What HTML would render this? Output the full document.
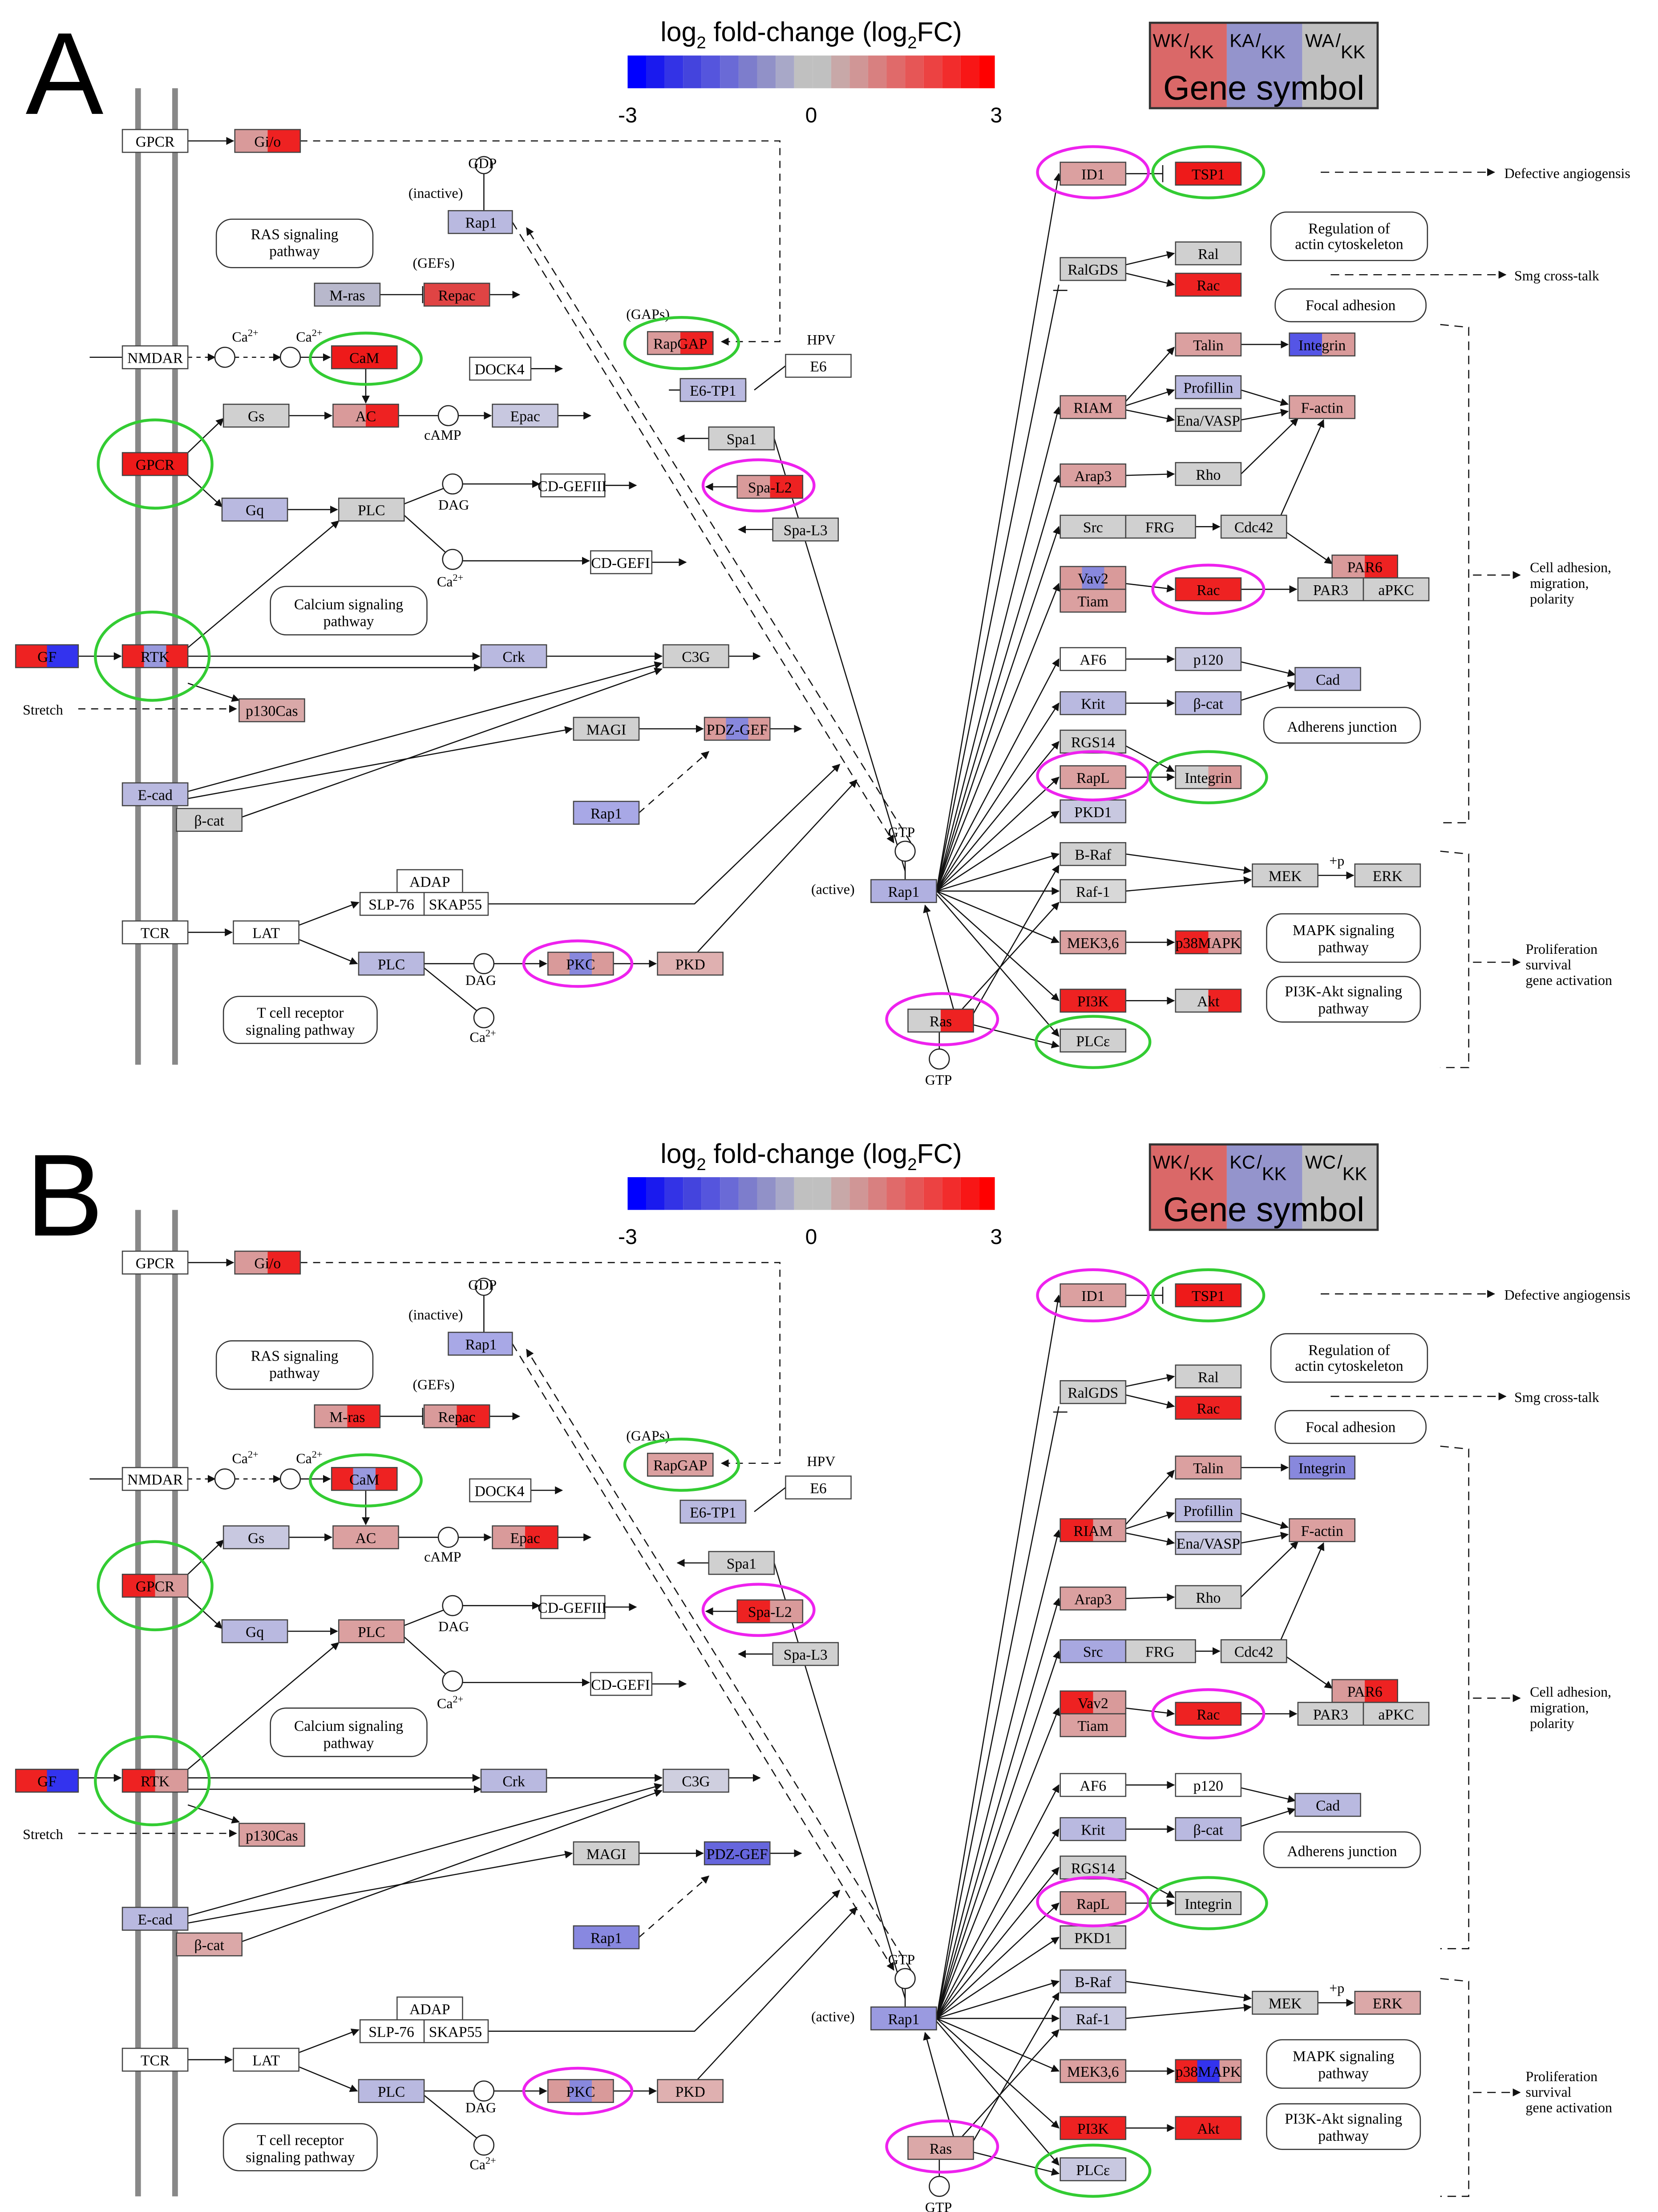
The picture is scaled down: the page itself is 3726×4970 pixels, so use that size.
<!DOCTYPE html>
<html><head><meta charset="utf-8"><style>
html,body{margin:0;padding:0;background:#fff}
svg{display:block}
.t{font-family:"Liberation Serif",serif;font-size:10.5px;text-anchor:middle;fill:#000}
.s{font-family:"Liberation Serif",serif;font-size:10px;fill:#000}
.h{font-family:"Liberation Sans",sans-serif}
.bx rect{stroke:#444;stroke-width:.8}
.ln line,.ln path,.ln polyline{stroke:#111;stroke-width:.8;fill:none}
.rb{fill:#fff;stroke:#333;stroke-width:.8}
.ge{fill:none;stroke:#33cc33;stroke-width:2}
.me{fill:none;stroke:#ee22ee;stroke-width:2}
.ci{fill:#fff;stroke:#222;stroke-width:.8}
</style></head><body>
<svg width="3726" height="4970" viewBox="0 0 1165 1554" preserveAspectRatio="none" xmlns="http://www.w3.org/2000/svg">
<defs>
<marker id="ar" viewBox="0 0 10 10" refX="9" refY="5" markerWidth="7" markerHeight="7" orient="auto"><path d="M0,0L10,5L0,10z" fill="#111"/></marker>
<linearGradient id="pr"><stop offset=".5" stop-color="#d99a9a"/><stop offset=".5" stop-color="#ee2222"/></linearGradient>
<linearGradient id="rp"><stop offset=".5" stop-color="#ee2222"/><stop offset=".5" stop-color="#d99a9a"/></linearGradient>
<linearGradient id="rb"><stop offset=".5" stop-color="#ee2222"/><stop offset=".5" stop-color="#3333ee"/></linearGradient>
<linearGradient id="bp"><stop offset=".5" stop-color="#5555e6"/><stop offset=".5" stop-color="#d99a9a"/></linearGradient>
<linearGradient id="lp"><stop offset=".5" stop-color="#b9b9e0"/><stop offset=".5" stop-color="#d99a9a"/></linearGradient>
<linearGradient id="gp"><stop offset=".5" stop-color="#d0d0d0"/><stop offset=".5" stop-color="#d99a9a"/></linearGradient>
<linearGradient id="rlr"><stop offset=".33" stop-color="#ee2222"/><stop offset=".33" stop-color="#9999dd"/><stop offset=".67" stop-color="#9999dd"/><stop offset=".67" stop-color="#ee2222"/></linearGradient>
<linearGradient id="plp"><stop offset=".33" stop-color="#d99a9a"/><stop offset=".33" stop-color="#8888dd"/><stop offset=".67" stop-color="#8888dd"/><stop offset=".67" stop-color="#d99a9a"/></linearGradient>
<linearGradient id="rbp"><stop offset=".33" stop-color="#ee2222"/><stop offset=".33" stop-color="#3333ee"/><stop offset=".67" stop-color="#3333ee"/><stop offset=".67" stop-color="#d99a9a"/></linearGradient>
<linearGradient id="gr"><stop offset=".5" stop-color="#d0d0d0"/><stop offset=".5" stop-color="#ee2222"/></linearGradient>
</defs>

<!-- ================= PANEL A ================= -->
<g id="pa">
<text x="18" y="80" class="h" font-size="82">A</text>
<text x="570" y="29" class="h" font-size="19" text-anchor="middle">log<tspan font-size="12" dy="5">2</tspan><tspan dy="-5"> fold-change (log</tspan><tspan font-size="12" dy="5">2</tspan><tspan dy="-5">FC)</tspan></text>
<g>
<rect x="441" y="39" width="13" height="23" fill="#0000ff"/><rect x="454" y="39" width="13" height="23" fill="#1a1aee"/><rect x="467" y="39" width="13" height="23" fill="#3333e6"/><rect x="480" y="39" width="13" height="23" fill="#4444dd"/><rect x="493" y="39" width="13" height="23" fill="#5555dd"/><rect x="506" y="39" width="13" height="23" fill="#6a6ad6"/><rect x="519" y="39" width="13" height="23" fill="#7d7dcc"/><rect x="532" y="39" width="13" height="23" fill="#9191c8"/><rect x="545" y="39" width="13" height="23" fill="#a8a8c8"/><rect x="558" y="39" width="13" height="23" fill="#c0c0c0"/><rect x="571" y="39" width="13" height="23" fill="#c0c0c0"/><rect x="584" y="39" width="13" height="23" fill="#c8a8a8"/><rect x="597" y="39" width="13" height="23" fill="#d09696"/><rect x="610" y="39" width="13" height="23" fill="#d88080"/><rect x="623" y="39" width="13" height="23" fill="#e06a6a"/><rect x="636" y="39" width="13" height="23" fill="#e65656"/><rect x="649" y="39" width="13" height="23" fill="#ec4242"/><rect x="662" y="39" width="13" height="23" fill="#f22c2c"/><rect x="675" y="39" width="13" height="23" fill="#f81616"/><rect x="688" y="39" width="11" height="23" fill="#ff0000"/>
</g>
<text x="441" y="86" class="h" font-size="15" text-anchor="middle">-3</text>
<text x="570" y="86" class="h" font-size="15" text-anchor="middle">0</text>
<text x="700" y="86" class="h" font-size="15" text-anchor="middle">3</text>
<rect x="808" y="16" width="54" height="60" fill="#da6868"/><rect x="862" y="16" width="53" height="60" fill="#9494cc"/><rect x="915" y="16" width="53" height="60" fill="#c0c0c0"/>
<rect x="808" y="16" width="160" height="60" fill="none" stroke="#333" stroke-width="1.5"/>
<text x="810" y="33" class="h" font-size="13">WK<tspan dx="1" dy="0">/</tspan><tspan dy="8">KK</tspan></text>
<text x="864" y="33" class="h" font-size="13">KA<tspan dx="1">/</tspan><tspan dy="8">KK</tspan></text>
<text x="917" y="33" class="h" font-size="13">WA<tspan dx="1">/</tspan><tspan dy="8">KK</tspan></text>
<text x="888" y="70" class="h" font-size="24" text-anchor="middle">Gene symbol</text>

<line x1="97" y1="62" x2="97" y2="748" stroke="#888" stroke-width="4"/>
<line x1="123" y1="62" x2="123" y2="748" stroke="#888" stroke-width="4"/>

<!-- rounded boxes -->
<rect class="rb" x="152" y="154" width="110" height="34" rx="11"/><text class="t" x="207" y="168">RAS signaling</text><text class="t" x="207" y="180">pathway</text>
<rect class="rb" x="190" y="412" width="110" height="34" rx="11"/><text class="t" x="245" y="428">Calcium signaling</text><text class="t" x="245" y="440">pathway</text>
<rect class="rb" x="157" y="700" width="108" height="33" rx="11"/><text class="t" x="211" y="715">T cell receptor</text><text class="t" x="211" y="727">signaling pathway</text>
<rect class="rb" x="893" y="149" width="110" height="34" rx="11"/><text class="t" x="948" y="164">Regulation of</text><text class="t" x="948" y="175">actin cytoskeleton</text>
<rect class="rb" x="896" y="203" width="106" height="23" rx="11"/><text class="t" x="949" y="218">Focal adhesion</text>
<rect class="rb" x="888" y="497" width="110" height="25" rx="11"/><text class="t" x="943" y="514">Adherens junction</text>
<rect class="rb" x="890" y="642" width="108" height="34" rx="11"/><text class="t" x="944" y="657">MAPK signaling</text><text class="t" x="944" y="669">pathway</text>
<rect class="rb" x="890" y="686" width="108" height="32" rx="11"/><text class="t" x="944" y="700">PI3K-Akt signaling</text><text class="t" x="944" y="712">pathway</text>

<!-- edges -->
<g class="ln">
<line x1="132" y1="99" x2="164" y2="99" marker-end="url(#ar)"/>
<polyline points="211,99 548,99 548,240 507,240" stroke-dasharray="5,4" marker-end="url(#ar)"/>
<line x1="267" y1="207" x2="297" y2="207"/><line x1="297" y1="201" x2="297" y2="213"/>
<line x1="344" y1="207" x2="365" y2="207" marker-end="url(#ar)"/>
<line x1="63" y1="251" x2="86" y2="251"/>
<line x1="132" y1="251" x2="151" y2="251" stroke-dasharray="3,3" marker-end="url(#ar)"/>
<line x1="165" y1="251" x2="197" y2="251" stroke-dasharray="3,3" marker-end="url(#ar)"/>
<line x1="211" y1="251" x2="232" y2="251" marker-end="url(#ar)"/>
<line x1="257" y1="259" x2="257" y2="283" marker-end="url(#ar)"/>
<line x1="373" y1="259" x2="395" y2="259" marker-end="url(#ar)"/>
<line x1="132" y1="318" x2="157" y2="294" marker-end="url(#ar)"/>
<line x1="132" y1="334" x2="156" y2="356" marker-end="url(#ar)"/>
<line x1="203" y1="292" x2="233" y2="292" marker-end="url(#ar)"/>
<line x1="280" y1="292" x2="308" y2="292"/>
<line x1="322" y1="292" x2="345" y2="292" marker-end="url(#ar)"/>
<line x1="392" y1="292" x2="415" y2="292" marker-end="url(#ar)"/>
<line x1="202" y1="358" x2="237" y2="358" marker-end="url(#ar)"/>
<line x1="284" y1="354" x2="312" y2="343"/>
<line x1="325" y1="340" x2="379" y2="340" marker-end="url(#ar)"/>
<line x1="425" y1="341" x2="447" y2="341" marker-end="url(#ar)"/>
<line x1="284" y1="362" x2="313" y2="388"/>
<line x1="325" y1="394" x2="414" y2="394" marker-end="url(#ar)"/>
<line x1="458" y1="395" x2="482" y2="395" marker-end="url(#ar)"/>
<line x1="55" y1="461" x2="85" y2="461" marker-end="url(#ar)"/>
<line x1="132" y1="455" x2="238" y2="366" marker-end="url(#ar)"/>
<line x1="132" y1="461" x2="337" y2="461" marker-end="url(#ar)"/>
<line x1="384" y1="461" x2="465" y2="461" marker-end="url(#ar)"/>
<line x1="512" y1="461" x2="534" y2="461" marker-end="url(#ar)"/>
<line x1="132" y1="469" x2="338" y2="469" marker-end="url(#ar)"/>
<line x1="132" y1="480" x2="168" y2="492" marker-end="url(#ar)"/>
<line x1="55" y1="498" x2="166" y2="498" stroke-dasharray="5,4" marker-end="url(#ar)"/>
<line x1="132" y1="556" x2="465" y2="466" marker-end="url(#ar)"/>
<line x1="132" y1="561" x2="402" y2="512" marker-end="url(#ar)"/>
<line x1="170" y1="574" x2="465" y2="470" marker-end="url(#ar)"/>
<line x1="449" y1="512" x2="494" y2="512" marker-end="url(#ar)"/>
<line x1="541" y1="512" x2="563" y2="512" marker-end="url(#ar)"/>
<line x1="449" y1="571" x2="498" y2="528" stroke-dasharray="5,4" marker-end="url(#ar)"/>
<line x1="132" y1="655" x2="163" y2="655" marker-end="url(#ar)"/>
<line x1="210" y1="650" x2="252" y2="634" marker-end="url(#ar)"/>
<line x1="210" y1="660" x2="251" y2="677" marker-end="url(#ar)"/>
<path d="M343,635 L488,635 L590,537" marker-end="url(#ar)"/>
<line x1="298" y1="677" x2="333" y2="677"/>
<line x1="347" y1="677" x2="384" y2="677" marker-end="url(#ar)"/>
<line x1="431" y1="677" x2="461" y2="677" marker-end="url(#ar)"/>
<line x1="298" y1="680" x2="335" y2="710"/>
<line x1="490" y1="669" x2="602" y2="548" marker-end="url(#ar)"/>
<line x1="360" y1="156" x2="628" y2="592" stroke-dasharray="6,4" marker-end="url(#ar)"/>
<line x1="640" y1="592" x2="370" y2="160" stroke-dasharray="6,4" marker-end="url(#ar)"/>
<line x1="544" y1="308" x2="636" y2="612"/>
<line x1="544" y1="302" x2="544" y2="314"/>
<line x1="498" y1="308" x2="476" y2="308" marker-end="url(#ar)"/>
<line x1="518" y1="342" x2="496" y2="342" marker-end="url(#ar)"/>
<line x1="543" y1="372" x2="519" y2="372" marker-end="url(#ar)"/>
<line x1="552" y1="257" x2="530" y2="274"/><line x1="524" y1="268" x2="524" y2="281"/>
<line x1="478" y1="274" x2="470" y2="274"/>
<!-- fan from Rap1 active -->
<line x1="658" y1="626" x2="744" y2="122" marker-end="url(#ar)"/>
<line x1="658" y1="626" x2="744" y2="200"/><line x1="740" y1="204" x2="750" y2="204"/>
<line x1="658" y1="626" x2="744" y2="286" marker-end="url(#ar)"/>
<line x1="658" y1="626" x2="744" y2="334" marker-end="url(#ar)"/>
<line x1="658" y1="626" x2="744" y2="370" marker-end="url(#ar)"/>
<line x1="658" y1="626" x2="744" y2="410" marker-end="url(#ar)"/>
<line x1="658" y1="626" x2="744" y2="463" marker-end="url(#ar)"/>
<line x1="658" y1="626" x2="744" y2="494" marker-end="url(#ar)"/>
<line x1="658" y1="626" x2="744" y2="521" marker-end="url(#ar)"/>
<line x1="658" y1="626" x2="744" y2="546" marker-end="url(#ar)"/>
<line x1="658" y1="626" x2="744" y2="570" marker-end="url(#ar)"/>
<line x1="658" y1="626" x2="744" y2="600" marker-end="url(#ar)"/>
<line x1="658" y1="626" x2="744" y2="626" marker-end="url(#ar)"/>
<line x1="658" y1="626" x2="744" y2="662" marker-end="url(#ar)"/>
<line x1="658" y1="626" x2="744" y2="703" marker-end="url(#ar)"/>
<line x1="658" y1="628" x2="744" y2="728" marker-end="url(#ar)"/>
<line x1="684" y1="712" x2="744" y2="608" marker-end="url(#ar)"/>
<line x1="676" y1="709" x2="744" y2="634" marker-end="url(#ar)"/>
<line x1="670" y1="709" x2="650" y2="636" marker-end="url(#ar)"/>
<line x1="684" y1="720" x2="744" y2="735" marker-end="url(#ar)"/>
<!-- right side -->
<line x1="791" y1="122" x2="817" y2="122"/><line x1="817" y1="116" x2="817" y2="128"/>
<line x1="928" y1="121" x2="1050" y2="121" stroke-dasharray="6,4" marker-end="url(#ar)"/>
<line x1="935" y1="193" x2="1058" y2="193" stroke-dasharray="6,4" marker-end="url(#ar)"/>
<line x1="791" y1="186" x2="825" y2="178" marker-end="url(#ar)"/>
<line x1="791" y1="192" x2="825" y2="200" marker-end="url(#ar)"/>
<line x1="872" y1="242" x2="905" y2="242" marker-end="url(#ar)"/>
<line x1="791" y1="282" x2="825" y2="244" marker-end="url(#ar)"/>
<line x1="791" y1="285" x2="825" y2="274" marker-end="url(#ar)"/>
<line x1="791" y1="288" x2="825" y2="295" marker-end="url(#ar)"/>
<line x1="872" y1="274" x2="905" y2="284" marker-end="url(#ar)"/>
<line x1="872" y1="295" x2="905" y2="289" marker-end="url(#ar)"/>
<line x1="791" y1="334" x2="825" y2="333" marker-end="url(#ar)"/>
<line x1="872" y1="333" x2="912" y2="294" marker-end="url(#ar)"/>
<line x1="840" y1="370" x2="857" y2="370" marker-end="url(#ar)"/>
<line x1="900" y1="362" x2="930" y2="295" marker-end="url(#ar)"/>
<line x1="904" y1="374" x2="936" y2="396" marker-end="url(#ar)"/>
<line x1="791" y1="410" x2="825" y2="414" marker-end="url(#ar)"/>
<line x1="872" y1="414" x2="911" y2="414" marker-end="url(#ar)"/>
<line x1="791" y1="463" x2="825" y2="463" marker-end="url(#ar)"/>
<line x1="872" y1="465" x2="910" y2="474" marker-end="url(#ar)"/>
<line x1="872" y1="492" x2="910" y2="480" marker-end="url(#ar)"/>
<line x1="791" y1="494" x2="825" y2="494" marker-end="url(#ar)"/>
<line x1="791" y1="524" x2="825" y2="542" marker-end="url(#ar)"/>
<line x1="791" y1="546" x2="825" y2="546" marker-end="url(#ar)"/>
<line x1="791" y1="600" x2="879" y2="612" marker-end="url(#ar)"/>
<line x1="791" y1="626" x2="879" y2="618" marker-end="url(#ar)"/>
<line x1="926" y1="615" x2="951" y2="615" marker-end="url(#ar)"/>
<line x1="791" y1="662" x2="825" y2="662" marker-end="url(#ar)"/>
<line x1="791" y1="703" x2="825" y2="703" marker-end="url(#ar)"/>
<path d="M1012,228 L1032,230 L1032,578 L1012,578" stroke-dasharray="6,4"/>
<line x1="1035" y1="404" x2="1068" y2="404" stroke-dasharray="6,4" marker-end="url(#ar)"/>
<path d="M1012,598 L1032,600 L1032,750 L1012,750" stroke-dasharray="6,4"/>
<line x1="1035" y1="676" x2="1068" y2="676" stroke-dasharray="6,4" marker-end="url(#ar)"/>
<line x1="636" y1="604" x2="636" y2="618"/>
<line x1="660" y1="725" x2="660" y2="738"/>
<line x1="340" y1="122" x2="340" y2="148"/>
</g>

<!-- circles -->
<circle class="ci" cx="158" cy="251" r="7"/><circle class="ci" cx="204" cy="251" r="7"/>
<circle class="ci" cx="315" cy="292" r="7"/><circle class="ci" cx="318" cy="340" r="7"/><circle class="ci" cx="318" cy="393" r="7"/>
<circle class="ci" cx="340" cy="677" r="7"/><circle class="ci" cx="340" cy="715" r="7"/>
<circle class="ci" cx="340" cy="116" r="6"/><circle class="ci" cx="636" cy="598" r="7"/><circle class="ci" cx="660" cy="744" r="7"/>
<text class="s" x="163" y="240">Ca<tspan font-size="7" dy="-4">2+</tspan></text>
<text class="s" x="208" y="240">Ca<tspan font-size="7" dy="-4">2+</tspan></text>
<text class="s" x="298" y="309">cAMP</text><text class="s" x="308" y="358">DAG</text>
<text class="s" x="307" y="412">Ca<tspan font-size="7" dy="-4">2+</tspan></text>
<text class="s" x="327" y="692">DAG</text><text class="s" x="330" y="732">Ca<tspan font-size="7" dy="-4">2+</tspan></text>
<text class="s" x="329" y="118">GDP</text><text class="s" x="287" y="139">(inactive)</text>
<text class="s" x="290" y="188">(GEFs)</text><text class="s" x="440" y="224">(GAPs)</text>
<text class="s" x="567" y="242">HPV</text>
<text class="s" x="624" y="588">GTP</text><text class="s" x="570" y="628">(active)</text>
<text class="s" x="650" y="762">GTP</text>
<text class="s" x="16" y="502">Stretch</text>
<text class="s" x="934" y="608" font-size="9">+p</text>
<text class="s" x="1057" y="125">Defective angiogensis</text>
<text class="s" x="1064" y="197">Smg cross-talk</text>
<text class="s" x="1075" y="402">Cell adhesion,</text><text class="s" x="1075" y="413">migration,</text><text class="s" x="1075" y="424">polarity</text>
<text class="s" x="1072" y="670">Proliferation</text><text class="s" x="1072" y="681">survival</text><text class="s" x="1072" y="692">gene activation</text>

<!-- gene boxes -->
<g class="bx">
<rect x="86" y="91" width="46" height="16" fill="#fff"/><text class="t" x="109" y="103">GPCR</text>
<rect x="165" y="91" width="46" height="16" fill="url(#pr)"/><text class="t" x="188" y="103">Gi/o</text>
<rect x="315" y="148" width="45" height="16" fill="#b9b9e0"/><text class="t" x="338" y="160">Rap1</text>
<rect x="221" y="199" width="46" height="16" fill="#b8b8cc"/><text class="t" x="244" y="211">M-ras</text>
<rect x="298" y="199" width="46" height="16" fill="#e04444"/><text class="t" x="321" y="211">Repac</text>
<rect x="86" y="243" width="46" height="16" fill="#fff"/><text class="t" x="109" y="255">NMDAR</text>
<rect x="233" y="243" width="46" height="16" fill="#ee1a1a"/><text class="t" x="256" y="255">CaM</text>
<rect x="330" y="251" width="43" height="16" fill="#fff"/><text class="t" x="351" y="263">DOCK4</text>
<rect x="157" y="284" width="46" height="16" fill="#d0d0d0"/><text class="t" x="180" y="296">Gs</text>
<rect x="234" y="284" width="46" height="16" fill="url(#pr)"/><text class="t" x="257" y="296">AC</text>
<rect x="346" y="284" width="46" height="16" fill="#c8c8e0"/><text class="t" x="369" y="296">Epac</text>
<rect x="86" y="318" width="46" height="16" fill="#ee1a1a"/><text class="t" x="109" y="330">GPCR</text>
<rect x="156" y="350" width="46" height="16" fill="#b9b9e0"/><text class="t" x="179" y="362">Gq</text>
<rect x="238" y="350" width="46" height="16" fill="#d0d0d0"/><text class="t" x="261" y="362">PLC</text>
<rect x="380" y="333" width="45" height="16" fill="#fff"/><text class="t" x="402" y="345">CD-GEFIII</text>
<rect x="415" y="387" width="43" height="16" fill="#fff"/><text class="t" x="436" y="399">CD-GEFI</text>
<rect x="11" y="453" width="44" height="16" fill="url(#rb)"/><text class="t" x="33" y="465">GF</text>
<rect x="86" y="453" width="46" height="16" fill="url(#rlr)"/><text class="t" x="109" y="465">RTK</text>
<rect x="338" y="453" width="46" height="16" fill="#b9b9e0"/><text class="t" x="361" y="465">Crk</text>
<rect x="466" y="453" width="46" height="16" fill="#d0d0d0"/><text class="t" x="489" y="465">C3G</text>
<rect x="168" y="491" width="46" height="16" fill="#d9a8a8"/><text class="t" x="191" y="503">p130Cas</text>
<rect x="403" y="504" width="46" height="16" fill="#d0d0d0"/><text class="t" x="426" y="516">MAGI</text>
<rect x="495" y="504" width="46" height="16" fill="url(#plp)"/><text class="t" x="518" y="516">PDZ-GEF</text>
<rect x="86" y="550" width="46" height="16" fill="#b9b9e0"/><text class="t" x="109" y="562">E-cad</text>
<rect x="124" y="568" width="46" height="16" fill="#d0d0d0"/><text class="t" x="147" y="580">β-cat</text>
<rect x="403" y="563" width="46" height="16" fill="#a8a8e6"/><text class="t" x="426" y="575">Rap1</text>
<rect x="279" y="611" width="46" height="16" fill="#fff"/><text class="t" x="302" y="623">ADAP</text>
<rect x="253" y="627" width="45" height="16" fill="#fff"/><text class="t" x="275" y="639">SLP-76</text>
<rect x="298" y="627" width="45" height="16" fill="#fff"/><text class="t" x="320" y="639">SKAP55</text>
<rect x="86" y="647" width="46" height="16" fill="#fff"/><text class="t" x="109" y="659">TCR</text>
<rect x="164" y="647" width="46" height="16" fill="#fff"/><text class="t" x="187" y="659">LAT</text>
<rect x="252" y="669" width="46" height="16" fill="#b9b9e0"/><text class="t" x="275" y="681">PLC</text>
<rect x="385" y="669" width="46" height="16" fill="url(#plp)"/><text class="t" x="408" y="681">PKC</text>
<rect x="462" y="669" width="46" height="16" fill="#dfb0b0"/><text class="t" x="485" y="681">PKD</text>
<rect x="612" y="618" width="46" height="16" fill="#b0b0e0"/><text class="t" x="635" y="630">Rap1</text>
<rect x="455" y="233" width="46" height="16" fill="url(#pr)"/><text class="t" x="478" y="245">RapGAP</text>
<rect x="552" y="249" width="46" height="16" fill="#fff"/><text class="t" x="575" y="261">E6</text>
<rect x="478" y="266" width="46" height="16" fill="#b9b9e0"/><text class="t" x="501" y="278">E6-TP1</text>
<rect x="498" y="300" width="46" height="16" fill="#d0d0d0"/><text class="t" x="521" y="312">Spa1</text>
<rect x="518" y="334" width="46" height="16" fill="url(#pr)"/><text class="t" x="541" y="346">Spa-L2</text>
<rect x="543" y="364" width="46" height="16" fill="#d0d0d0"/><text class="t" x="566" y="376">Spa-L3</text>
<rect x="745" y="114" width="46" height="16" fill="#dba0a0"/><text class="t" x="768" y="126">ID1</text>
<rect x="826" y="114" width="46" height="16" fill="#ee1a1a"/><text class="t" x="849" y="126">TSP1</text>
<rect x="745" y="181" width="46" height="16" fill="#d0d0d0"/><text class="t" x="768" y="193">RalGDS</text>
<rect x="826" y="170" width="46" height="16" fill="#d0d0d0"/><text class="t" x="849" y="182">Ral</text>
<rect x="826" y="192" width="46" height="16" fill="#ee2222"/><text class="t" x="849" y="204">Rac</text>
<rect x="826" y="234" width="46" height="16" fill="#dba0a0"/><text class="t" x="849" y="246">Talin</text>
<rect x="906" y="234" width="46" height="16" fill="url(#bp)"/><text class="t" x="929" y="246">Integrin</text>
<rect x="745" y="278" width="46" height="16" fill="#dba0a0"/><text class="t" x="768" y="290">RIAM</text>
<rect x="826" y="264" width="46" height="16" fill="#b9b9e0"/><text class="t" x="849" y="276">Profillin</text>
<rect x="826" y="287" width="46" height="16" fill="#d0d0d0"/><text class="t" x="849" y="299">Ena/VASP</text>
<rect x="906" y="278" width="46" height="16" fill="#dba0a0"/><text class="t" x="929" y="290">F-actin</text>
<rect x="745" y="326" width="46" height="16" fill="#dba0a0"/><text class="t" x="768" y="338">Arap3</text>
<rect x="826" y="325" width="46" height="16" fill="#d0d0d0"/><text class="t" x="849" y="337">Rho</text>
<rect x="745" y="362" width="46" height="16" fill="#d0d0d0"/><text class="t" x="768" y="374">Src</text>
<rect x="791" y="362" width="49" height="16" fill="#d0d0d0"/><text class="t" x="815" y="374">FRG</text>
<rect x="858" y="362" width="46" height="16" fill="#d0d0d0"/><text class="t" x="881" y="374">Cdc42</text>
<rect x="936" y="390" width="46" height="16" fill="url(#pr)"/><text class="t" x="959" y="402">PAR6</text>
<rect x="912" y="406" width="46" height="16" fill="#d0d0d0"/><text class="t" x="935" y="418">PAR3</text>
<rect x="958" y="406" width="46" height="16" fill="#d0d0d0"/><text class="t" x="981" y="418">aPKC</text>
<rect x="745" y="398" width="46" height="16" fill="url(#plp)"/><text class="t" x="768" y="410">Vav2</text>
<rect x="745" y="414" width="46" height="16" fill="#dba0a0"/><text class="t" x="768" y="426">Tiam</text>
<rect x="826" y="406" width="46" height="16" fill="#ee2222"/><text class="t" x="849" y="418">Rac</text>
<rect x="745" y="455" width="46" height="16" fill="#fff"/><text class="t" x="768" y="467">AF6</text>
<rect x="826" y="455" width="46" height="16" fill="#c8c8e0"/><text class="t" x="849" y="467">p120</text>
<rect x="910" y="469" width="46" height="16" fill="#b9b9e0"/><text class="t" x="933" y="481">Cad</text>
<rect x="745" y="486" width="46" height="16" fill="#b9b9e0"/><text class="t" x="768" y="498">Krit</text>
<rect x="826" y="486" width="46" height="16" fill="#b9b9e0"/><text class="t" x="849" y="498">β-cat</text>
<rect x="745" y="513" width="46" height="16" fill="#d0d0d0"/><text class="t" x="768" y="525">RGS14</text>
<rect x="745" y="538" width="46" height="16" fill="#dba0a0"/><text class="t" x="768" y="550">RapL</text>
<rect x="745" y="562" width="46" height="16" fill="#c8c8e0"/><text class="t" x="768" y="574">PKD1</text>
<rect x="826" y="538" width="46" height="16" fill="url(#gp)"/><text class="t" x="849" y="550">Integrin</text>
<rect x="745" y="592" width="46" height="16" fill="#d0d0d0"/><text class="t" x="768" y="604">B-Raf</text>
<rect x="745" y="618" width="46" height="16" fill="#d8d8d8"/><text class="t" x="768" y="630">Raf-1</text>
<rect x="880" y="607" width="46" height="16" fill="#d0d0d0"/><text class="t" x="903" y="619">MEK</text>
<rect x="952" y="607" width="46" height="16" fill="#d0d0d0"/><text class="t" x="975" y="619">ERK</text>
<rect x="745" y="654" width="46" height="16" fill="#dba0a0"/><text class="t" x="768" y="666">MEK3,6</text>
<rect x="826" y="654" width="46" height="16" fill="url(#rp)"/><text class="t" x="849" y="666">p38MAPK</text>
<rect x="745" y="695" width="46" height="16" fill="#ee2222"/><text class="t" x="768" y="707">PI3K</text>
<rect x="826" y="695" width="46" height="16" fill="url(#gr)"/><text class="t" x="849" y="707">Akt</text>
<rect x="638" y="709" width="46" height="16" fill="url(#gr)"/><text class="t" x="661" y="721">Ras</text>
<rect x="745" y="723" width="46" height="16" fill="#d0d0d0"/><text class="t" x="768" y="735">PLCε</text>
</g>
<!-- highlight ellipses -->
<ellipse class="ge" cx="257" cy="252" rx="39" ry="18"/>
<ellipse class="ge" cx="109" cy="326" rx="40" ry="31"/>
<ellipse class="ge" cx="107" cy="461" rx="40" ry="31"/>
<ellipse class="ge" cx="479" cy="241" rx="40" ry="18"/>
<ellipse class="me" cx="533" cy="341" rx="39" ry="18"/>
<ellipse class="me" cx="406" cy="677" rx="38" ry="16"/>
<ellipse class="me" cx="768" cy="121" rx="39" ry="18"/>
<ellipse class="ge" cx="849" cy="121" rx="39" ry="18"/>
<ellipse class="me" cx="849" cy="414" rx="39" ry="17"/>
<ellipse class="me" cx="768" cy="545" rx="39" ry="17"/>
<ellipse class="ge" cx="849" cy="546" rx="41" ry="18"/>
<ellipse class="me" cx="662" cy="716" rx="39" ry="18"/>
<ellipse class="ge" cx="768" cy="732" rx="40" ry="18"/>
</g>

<!-- ================= PANEL B ================= -->
<g transform="translate(0,788)">
<text x="18" y="80" class="h" font-size="82">B</text>
<text x="570" y="29" class="h" font-size="19" text-anchor="middle">log<tspan font-size="12" dy="5">2</tspan><tspan dy="-5"> fold-change (log</tspan><tspan font-size="12" dy="5">2</tspan><tspan dy="-5">FC)</tspan></text>
<g>
<rect x="441" y="39" width="13" height="23" fill="#0000ff"/><rect x="454" y="39" width="13" height="23" fill="#1a1aee"/><rect x="467" y="39" width="13" height="23" fill="#3333e6"/><rect x="480" y="39" width="13" height="23" fill="#4444dd"/><rect x="493" y="39" width="13" height="23" fill="#5555dd"/><rect x="506" y="39" width="13" height="23" fill="#6a6ad6"/><rect x="519" y="39" width="13" height="23" fill="#7d7dcc"/><rect x="532" y="39" width="13" height="23" fill="#9191c8"/><rect x="545" y="39" width="13" height="23" fill="#a8a8c8"/><rect x="558" y="39" width="13" height="23" fill="#c0c0c0"/><rect x="571" y="39" width="13" height="23" fill="#c0c0c0"/><rect x="584" y="39" width="13" height="23" fill="#c8a8a8"/><rect x="597" y="39" width="13" height="23" fill="#d09696"/><rect x="610" y="39" width="13" height="23" fill="#d88080"/><rect x="623" y="39" width="13" height="23" fill="#e06a6a"/><rect x="636" y="39" width="13" height="23" fill="#e65656"/><rect x="649" y="39" width="13" height="23" fill="#ec4242"/><rect x="662" y="39" width="13" height="23" fill="#f22c2c"/><rect x="675" y="39" width="13" height="23" fill="#f81616"/><rect x="688" y="39" width="11" height="23" fill="#ff0000"/>
</g>
<text x="441" y="86" class="h" font-size="15" text-anchor="middle">-3</text>
<text x="570" y="86" class="h" font-size="15" text-anchor="middle">0</text>
<text x="700" y="86" class="h" font-size="15" text-anchor="middle">3</text>
<rect x="808" y="16" width="54" height="60" fill="#da6868"/><rect x="862" y="16" width="53" height="60" fill="#9494cc"/><rect x="915" y="16" width="53" height="60" fill="#c0c0c0"/>
<rect x="808" y="16" width="160" height="60" fill="none" stroke="#333" stroke-width="1.5"/>
<text x="810" y="33" class="h" font-size="13">WK<tspan dx="1">/</tspan><tspan dy="8">KK</tspan></text>
<text x="864" y="33" class="h" font-size="13">KC<tspan dx="1">/</tspan><tspan dy="8">KK</tspan></text>
<text x="917" y="33" class="h" font-size="13">WC<tspan dx="1">/</tspan><tspan dy="8">KK</tspan></text>
<text x="888" y="70" class="h" font-size="24" text-anchor="middle">Gene symbol</text>

<line x1="97" y1="62" x2="97" y2="755" stroke="#888" stroke-width="4"/>
<line x1="123" y1="62" x2="123" y2="755" stroke="#888" stroke-width="4"/>

<rect class="rb" x="152" y="154" width="110" height="34" rx="11"/><text class="t" x="207" y="168">RAS signaling</text><text class="t" x="207" y="180">pathway</text>
<rect class="rb" x="190" y="412" width="110" height="34" rx="11"/><text class="t" x="245" y="428">Calcium signaling</text><text class="t" x="245" y="440">pathway</text>
<rect class="rb" x="157" y="704" width="108" height="33" rx="11"/><text class="t" x="211" y="719">T cell receptor</text><text class="t" x="211" y="731">signaling pathway</text>
<rect class="rb" x="893" y="149" width="110" height="34" rx="11"/><text class="t" x="948" y="164">Regulation of</text><text class="t" x="948" y="175">actin cytoskeleton</text>
<rect class="rb" x="896" y="203" width="106" height="23" rx="11"/><text class="t" x="949" y="218">Focal adhesion</text>
<rect class="rb" x="888" y="499" width="110" height="25" rx="11"/><text class="t" x="943" y="516">Adherens junction</text>
<rect class="rb" x="890" y="645" width="108" height="34" rx="11"/><text class="t" x="944" y="660">MAPK signaling</text><text class="t" x="944" y="672">pathway</text>
<rect class="rb" x="890" y="690" width="108" height="32" rx="11"/><text class="t" x="944" y="704">PI3K-Akt signaling</text><text class="t" x="944" y="716">pathway</text>

<g class="ln">
<line x1="132" y1="99" x2="164" y2="99" marker-end="url(#ar)"/>
<polyline points="211,99 548,99 548,240 507,240" stroke-dasharray="5,4" marker-end="url(#ar)"/>
<line x1="267" y1="207" x2="297" y2="207"/><line x1="297" y1="201" x2="297" y2="213"/>
<line x1="344" y1="207" x2="365" y2="207" marker-end="url(#ar)"/>
<line x1="63" y1="251" x2="86" y2="251"/>
<line x1="132" y1="251" x2="151" y2="251" stroke-dasharray="3,3" marker-end="url(#ar)"/>
<line x1="165" y1="251" x2="197" y2="251" stroke-dasharray="3,3" marker-end="url(#ar)"/>
<line x1="211" y1="251" x2="232" y2="251" marker-end="url(#ar)"/>
<line x1="257" y1="259" x2="257" y2="283" marker-end="url(#ar)"/>
<line x1="373" y1="259" x2="395" y2="259" marker-end="url(#ar)"/>
<line x1="132" y1="318" x2="157" y2="294" marker-end="url(#ar)"/>
<line x1="132" y1="334" x2="156" y2="356" marker-end="url(#ar)"/>
<line x1="203" y1="292" x2="233" y2="292" marker-end="url(#ar)"/>
<line x1="280" y1="292" x2="308" y2="292"/>
<line x1="322" y1="292" x2="345" y2="292" marker-end="url(#ar)"/>
<line x1="392" y1="292" x2="415" y2="292" marker-end="url(#ar)"/>
<line x1="202" y1="358" x2="237" y2="358" marker-end="url(#ar)"/>
<line x1="284" y1="354" x2="312" y2="343"/>
<line x1="325" y1="340" x2="379" y2="340" marker-end="url(#ar)"/>
<line x1="425" y1="341" x2="447" y2="341" marker-end="url(#ar)"/>
<line x1="284" y1="362" x2="313" y2="388"/>
<line x1="325" y1="394" x2="414" y2="394" marker-end="url(#ar)"/>
<line x1="458" y1="395" x2="482" y2="395" marker-end="url(#ar)"/>
<line x1="55" y1="461" x2="85" y2="461" marker-end="url(#ar)"/>
<line x1="132" y1="455" x2="238" y2="366" marker-end="url(#ar)"/>
<line x1="132" y1="461" x2="337" y2="461" marker-end="url(#ar)"/>
<line x1="384" y1="461" x2="465" y2="461" marker-end="url(#ar)"/>
<line x1="512" y1="461" x2="534" y2="461" marker-end="url(#ar)"/>
<line x1="132" y1="469" x2="338" y2="469" marker-end="url(#ar)"/>
<line x1="132" y1="480" x2="168" y2="492" marker-end="url(#ar)"/>
<line x1="55" y1="500" x2="166" y2="500" stroke-dasharray="5,4" marker-end="url(#ar)"/>
<line x1="132" y1="558" x2="465" y2="466" marker-end="url(#ar)"/>
<line x1="132" y1="563" x2="402" y2="514" marker-end="url(#ar)"/>
<line x1="170" y1="576" x2="465" y2="470" marker-end="url(#ar)"/>
<line x1="449" y1="514" x2="494" y2="514" marker-end="url(#ar)"/>
<line x1="541" y1="514" x2="563" y2="514" marker-end="url(#ar)"/>
<line x1="449" y1="573" x2="498" y2="530" stroke-dasharray="5,4" marker-end="url(#ar)"/>
<line x1="132" y1="659" x2="163" y2="659" marker-end="url(#ar)"/>
<line x1="210" y1="654" x2="252" y2="638" marker-end="url(#ar)"/>
<line x1="210" y1="664" x2="251" y2="681" marker-end="url(#ar)"/>
<path d="M343,639 L488,639 L590,540" marker-end="url(#ar)"/>
<line x1="298" y1="681" x2="333" y2="681"/>
<line x1="347" y1="681" x2="384" y2="681" marker-end="url(#ar)"/>
<line x1="431" y1="681" x2="461" y2="681" marker-end="url(#ar)"/>
<line x1="298" y1="684" x2="335" y2="714"/>
<line x1="490" y1="673" x2="602" y2="552" marker-end="url(#ar)"/>
<line x1="360" y1="156" x2="628" y2="596" stroke-dasharray="6,4" marker-end="url(#ar)"/>
<line x1="640" y1="596" x2="370" y2="160" stroke-dasharray="6,4" marker-end="url(#ar)"/>
<line x1="544" y1="310" x2="636" y2="616"/>
<line x1="544" y1="304" x2="544" y2="316"/>
<line x1="498" y1="310" x2="476" y2="310" marker-end="url(#ar)"/>
<line x1="518" y1="344" x2="496" y2="344" marker-end="url(#ar)"/>
<line x1="543" y1="374" x2="519" y2="374" marker-end="url(#ar)"/>
<line x1="552" y1="257" x2="530" y2="274"/><line x1="524" y1="268" x2="524" y2="281"/>
<line x1="658" y1="630" x2="744" y2="122" marker-end="url(#ar)"/>
<line x1="658" y1="630" x2="744" y2="200"/><line x1="740" y1="204" x2="750" y2="204"/>
<line x1="658" y1="630" x2="744" y2="287" marker-end="url(#ar)"/>
<line x1="658" y1="630" x2="744" y2="335" marker-end="url(#ar)"/>
<line x1="658" y1="630" x2="744" y2="372" marker-end="url(#ar)"/>
<line x1="658" y1="630" x2="744" y2="412" marker-end="url(#ar)"/>
<line x1="658" y1="630" x2="744" y2="466" marker-end="url(#ar)"/>
<line x1="658" y1="630" x2="744" y2="497" marker-end="url(#ar)"/>
<line x1="658" y1="630" x2="744" y2="524" marker-end="url(#ar)"/>
<line x1="658" y1="630" x2="744" y2="549" marker-end="url(#ar)"/>
<line x1="658" y1="630" x2="744" y2="573" marker-end="url(#ar)"/>
<line x1="658" y1="630" x2="744" y2="604" marker-end="url(#ar)"/>
<line x1="658" y1="630" x2="744" y2="630" marker-end="url(#ar)"/>
<line x1="658" y1="630" x2="744" y2="667" marker-end="url(#ar)"/>
<line x1="658" y1="630" x2="744" y2="707" marker-end="url(#ar)"/>
<line x1="658" y1="632" x2="744" y2="733" marker-end="url(#ar)"/>
<line x1="684" y1="716" x2="744" y2="612" marker-end="url(#ar)"/>
<line x1="676" y1="713" x2="744" y2="638" marker-end="url(#ar)"/>
<line x1="670" y1="713" x2="650" y2="640" marker-end="url(#ar)"/>
<line x1="684" y1="724" x2="744" y2="739" marker-end="url(#ar)"/>
<line x1="791" y1="122" x2="817" y2="122"/><line x1="817" y1="116" x2="817" y2="128"/>
<line x1="928" y1="121" x2="1050" y2="121" stroke-dasharray="6,4" marker-end="url(#ar)"/>
<line x1="935" y1="193" x2="1058" y2="193" stroke-dasharray="6,4" marker-end="url(#ar)"/>
<line x1="791" y1="186" x2="825" y2="179" marker-end="url(#ar)"/>
<line x1="791" y1="192" x2="825" y2="200" marker-end="url(#ar)"/>
<line x1="872" y1="243" x2="905" y2="243" marker-end="url(#ar)"/>
<line x1="791" y1="283" x2="825" y2="245" marker-end="url(#ar)"/>
<line x1="791" y1="286" x2="825" y2="275" marker-end="url(#ar)"/>
<line x1="791" y1="289" x2="825" y2="296" marker-end="url(#ar)"/>
<line x1="872" y1="275" x2="905" y2="285" marker-end="url(#ar)"/>
<line x1="872" y1="296" x2="905" y2="290" marker-end="url(#ar)"/>
<line x1="791" y1="335" x2="825" y2="334" marker-end="url(#ar)"/>
<line x1="872" y1="334" x2="912" y2="295" marker-end="url(#ar)"/>
<line x1="840" y1="372" x2="857" y2="372" marker-end="url(#ar)"/>
<line x1="900" y1="364" x2="930" y2="296" marker-end="url(#ar)"/>
<line x1="904" y1="376" x2="936" y2="398" marker-end="url(#ar)"/>
<line x1="791" y1="412" x2="825" y2="416" marker-end="url(#ar)"/>
<line x1="872" y1="416" x2="911" y2="416" marker-end="url(#ar)"/>
<line x1="791" y1="466" x2="825" y2="466" marker-end="url(#ar)"/>
<line x1="872" y1="468" x2="910" y2="477" marker-end="url(#ar)"/>
<line x1="872" y1="495" x2="910" y2="483" marker-end="url(#ar)"/>
<line x1="791" y1="497" x2="825" y2="497" marker-end="url(#ar)"/>
<line x1="791" y1="527" x2="825" y2="545" marker-end="url(#ar)"/>
<line x1="791" y1="549" x2="825" y2="549" marker-end="url(#ar)"/>
<line x1="791" y1="604" x2="879" y2="616" marker-end="url(#ar)"/>
<line x1="791" y1="630" x2="879" y2="622" marker-end="url(#ar)"/>
<line x1="926" y1="619" x2="951" y2="619" marker-end="url(#ar)"/>
<line x1="791" y1="667" x2="825" y2="667" marker-end="url(#ar)"/>
<line x1="791" y1="707" x2="825" y2="707" marker-end="url(#ar)"/>
<path d="M1012,228 L1032,230 L1032,581 L1012,581" stroke-dasharray="6,4"/>
<line x1="1035" y1="405" x2="1068" y2="405" stroke-dasharray="6,4" marker-end="url(#ar)"/>
<path d="M1012,602 L1032,604 L1032,755 L1012,755" stroke-dasharray="6,4"/>
<line x1="1035" y1="682" x2="1068" y2="682" stroke-dasharray="6,4" marker-end="url(#ar)"/>
<line x1="636" y1="608" x2="636" y2="622"/>
<line x1="660" y1="729" x2="660" y2="742"/>
<line x1="340" y1="122" x2="340" y2="148"/>
</g>

<circle class="ci" cx="158" cy="251" r="7"/><circle class="ci" cx="204" cy="251" r="7"/>
<circle class="ci" cx="315" cy="292" r="7"/><circle class="ci" cx="318" cy="340" r="7"/><circle class="ci" cx="318" cy="393" r="7"/>
<circle class="ci" cx="340" cy="681" r="7"/><circle class="ci" cx="340" cy="719" r="7"/>
<circle class="ci" cx="340" cy="116" r="6"/><circle class="ci" cx="636" cy="602" r="7"/><circle class="ci" cx="660" cy="748" r="7"/>
<text class="s" x="163" y="240">Ca<tspan font-size="7" dy="-4">2+</tspan></text>
<text class="s" x="208" y="240">Ca<tspan font-size="7" dy="-4">2+</tspan></text>
<text class="s" x="298" y="309">cAMP</text><text class="s" x="308" y="358">DAG</text>
<text class="s" x="307" y="412">Ca<tspan font-size="7" dy="-4">2+</tspan></text>
<text class="s" x="327" y="696">DAG</text><text class="s" x="330" y="736">Ca<tspan font-size="7" dy="-4">2+</tspan></text>
<text class="s" x="329" y="118">GDP</text><text class="s" x="287" y="139">(inactive)</text>
<text class="s" x="290" y="188">(GEFs)</text><text class="s" x="440" y="224">(GAPs)</text>
<text class="s" x="567" y="242">HPV</text>
<text class="s" x="624" y="592">GTP</text><text class="s" x="570" y="632">(active)</text>
<text class="s" x="650" y="766">GTP</text>
<text class="s" x="16" y="504">Stretch</text>
<text class="s" x="934" y="612" font-size="9">+p</text>
<text class="s" x="1057" y="125">Defective angiogensis</text>
<text class="s" x="1064" y="197">Smg cross-talk</text>
<text class="s" x="1075" y="404">Cell adhesion,</text><text class="s" x="1075" y="415">migration,</text><text class="s" x="1075" y="426">polarity</text>
<text class="s" x="1072" y="674">Proliferation</text><text class="s" x="1072" y="685">survival</text><text class="s" x="1072" y="696">gene activation</text>

<g class="bx">
<rect x="86" y="91" width="46" height="16" fill="#fff"/><text class="t" x="109" y="103">GPCR</text>
<rect x="165" y="91" width="46" height="16" fill="url(#pr)"/><text class="t" x="188" y="103">Gi/o</text>
<rect x="315" y="148" width="45" height="16" fill="#a8a8e6"/><text class="t" x="338" y="160">Rap1</text>
<rect x="221" y="199" width="46" height="16" fill="url(#pr)"/><text class="t" x="244" y="211">M-ras</text>
<rect x="298" y="199" width="46" height="16" fill="url(#pr)"/><text class="t" x="321" y="211">Repac</text>
<rect x="86" y="243" width="46" height="16" fill="#fff"/><text class="t" x="109" y="255">NMDAR</text>
<rect x="233" y="243" width="46" height="16" fill="url(#rlr)"/><text class="t" x="256" y="255">CaM</text>
<rect x="330" y="251" width="43" height="16" fill="#fff"/><text class="t" x="351" y="263">DOCK4</text>
<rect x="157" y="284" width="46" height="16" fill="#c8c8e0"/><text class="t" x="180" y="296">Gs</text>
<rect x="234" y="284" width="46" height="16" fill="#dba0a0"/><text class="t" x="257" y="296">AC</text>
<rect x="346" y="284" width="46" height="16" fill="url(#pr)"/><text class="t" x="369" y="296">Epac</text>
<rect x="86" y="318" width="46" height="16" fill="url(#rp)"/><text class="t" x="109" y="330">GPCR</text>
<rect x="156" y="350" width="46" height="16" fill="#b9b9e0"/><text class="t" x="179" y="362">Gq</text>
<rect x="238" y="350" width="46" height="16" fill="#dba0a0"/><text class="t" x="261" y="362">PLC</text>
<rect x="380" y="333" width="45" height="16" fill="#fff"/><text class="t" x="402" y="345">CD-GEFIII</text>
<rect x="415" y="387" width="43" height="16" fill="#fff"/><text class="t" x="436" y="399">CD-GEFI</text>
<rect x="11" y="455" width="44" height="16" fill="url(#rb)"/><text class="t" x="33" y="467">GF</text>
<rect x="86" y="455" width="46" height="16" fill="url(#rp)"/><text class="t" x="109" y="467">RTK</text>
<rect x="338" y="455" width="46" height="16" fill="#b9b9e0"/><text class="t" x="361" y="467">Crk</text>
<rect x="466" y="455" width="46" height="16" fill="#cfcfdf"/><text class="t" x="489" y="467">C3G</text>
<rect x="168" y="493" width="46" height="16" fill="#dba0a0"/><text class="t" x="191" y="505">p130Cas</text>
<rect x="403" y="506" width="46" height="16" fill="#d0d0d0"/><text class="t" x="426" y="518">MAGI</text>
<rect x="495" y="506" width="46" height="16" fill="#6666dd"/><text class="t" x="518" y="518">PDZ-GEF</text>
<rect x="86" y="552" width="46" height="16" fill="#b9b9e0"/><text class="t" x="109" y="564">E-cad</text>
<rect x="124" y="570" width="46" height="16" fill="#dba8a8"/><text class="t" x="147" y="582">β-cat</text>
<rect x="403" y="565" width="46" height="16" fill="#8888e0"/><text class="t" x="426" y="577">Rap1</text>
<rect x="279" y="615" width="46" height="16" fill="#fff"/><text class="t" x="302" y="627">ADAP</text>
<rect x="253" y="631" width="45" height="16" fill="#fff"/><text class="t" x="275" y="643">SLP-76</text>
<rect x="298" y="631" width="45" height="16" fill="#fff"/><text class="t" x="320" y="643">SKAP55</text>
<rect x="86" y="651" width="46" height="16" fill="#fff"/><text class="t" x="109" y="663">TCR</text>
<rect x="164" y="651" width="46" height="16" fill="#fff"/><text class="t" x="187" y="663">LAT</text>
<rect x="252" y="673" width="46" height="16" fill="#b9b9e0"/><text class="t" x="275" y="685">PLC</text>
<rect x="385" y="673" width="46" height="16" fill="url(#plp)"/><text class="t" x="408" y="685">PKC</text>
<rect x="462" y="673" width="46" height="16" fill="#dfb0b0"/><text class="t" x="485" y="685">PKD</text>
<rect x="612" y="622" width="46" height="16" fill="#9a9ae0"/><text class="t" x="635" y="634">Rap1</text>
<rect x="455" y="233" width="46" height="16" fill="#dba0a0"/><text class="t" x="478" y="245">RapGAP</text>
<rect x="552" y="249" width="46" height="16" fill="#fff"/><text class="t" x="575" y="261">E6</text>
<rect x="478" y="266" width="46" height="16" fill="#b9b9e0"/><text class="t" x="501" y="278">E6-TP1</text>
<rect x="498" y="302" width="46" height="16" fill="#d0d0d0"/><text class="t" x="521" y="314">Spa1</text>
<rect x="518" y="336" width="46" height="16" fill="url(#rp)"/><text class="t" x="541" y="348">Spa-L2</text>
<rect x="543" y="366" width="46" height="16" fill="#d0d0d0"/><text class="t" x="566" y="378">Spa-L3</text>
<rect x="745" y="114" width="46" height="16" fill="#dba0a0"/><text class="t" x="768" y="126">ID1</text>
<rect x="826" y="114" width="46" height="16" fill="#ee1a1a"/><text class="t" x="849" y="126">TSP1</text>
<rect x="745" y="182" width="46" height="16" fill="#d0d0d0"/><text class="t" x="768" y="194">RalGDS</text>
<rect x="826" y="171" width="46" height="16" fill="#d0d0d0"/><text class="t" x="849" y="183">Ral</text>
<rect x="826" y="193" width="46" height="16" fill="#ee2222"/><text class="t" x="849" y="205">Rac</text>
<rect x="826" y="235" width="46" height="16" fill="#dba0a0"/><text class="t" x="849" y="247">Talin</text>
<rect x="906" y="235" width="46" height="16" fill="#8888dd"/><text class="t" x="929" y="247">Integrin</text>
<rect x="745" y="279" width="46" height="16" fill="url(#rp)"/><text class="t" x="768" y="291">RIAM</text>
<rect x="826" y="265" width="46" height="16" fill="#b9b9e0"/><text class="t" x="849" y="277">Profillin</text>
<rect x="826" y="288" width="46" height="16" fill="#c8c8e0"/><text class="t" x="849" y="300">Ena/VASP</text>
<rect x="906" y="279" width="46" height="16" fill="#dba0a0"/><text class="t" x="929" y="291">F-actin</text>
<rect x="745" y="327" width="46" height="16" fill="#dba0a0"/><text class="t" x="768" y="339">Arap3</text>
<rect x="826" y="326" width="46" height="16" fill="#d0d0d0"/><text class="t" x="849" y="338">Rho</text>
<rect x="745" y="364" width="46" height="16" fill="#a8a8e0"/><text class="t" x="768" y="376">Src</text>
<rect x="791" y="364" width="49" height="16" fill="#d0d0d0"/><text class="t" x="815" y="376">FRG</text>
<rect x="858" y="364" width="46" height="16" fill="#d0d0d0"/><text class="t" x="881" y="376">Cdc42</text>
<rect x="936" y="392" width="46" height="16" fill="url(#pr)"/><text class="t" x="959" y="404">PAR6</text>
<rect x="912" y="408" width="46" height="16" fill="#d0d0d0"/><text class="t" x="935" y="420">PAR3</text>
<rect x="958" y="408" width="46" height="16" fill="#d0d0d0"/><text class="t" x="981" y="420">aPKC</text>
<rect x="745" y="400" width="46" height="16" fill="url(#rp)"/><text class="t" x="768" y="412">Vav2</text>
<rect x="745" y="416" width="46" height="16" fill="#dba0a0"/><text class="t" x="768" y="428">Tiam</text>
<rect x="826" y="408" width="46" height="16" fill="#ee2222"/><text class="t" x="849" y="420">Rac</text>
<rect x="745" y="458" width="46" height="16" fill="#fff"/><text class="t" x="768" y="470">AF6</text>
<rect x="826" y="458" width="46" height="16" fill="#fff"/><text class="t" x="849" y="470">p120</text>
<rect x="910" y="472" width="46" height="16" fill="#b9b9e0"/><text class="t" x="933" y="484">Cad</text>
<rect x="745" y="489" width="46" height="16" fill="#b9b9e0"/><text class="t" x="768" y="501">Krit</text>
<rect x="826" y="489" width="46" height="16" fill="#b9b9e0"/><text class="t" x="849" y="501">β-cat</text>
<rect x="745" y="516" width="46" height="16" fill="#d0d0d0"/><text class="t" x="768" y="528">RGS14</text>
<rect x="745" y="541" width="46" height="16" fill="#dba0a0"/><text class="t" x="768" y="553">RapL</text>
<rect x="745" y="565" width="46" height="16" fill="#d0d0d0"/><text class="t" x="768" y="577">PKD1</text>
<rect x="826" y="541" width="46" height="16" fill="#d0d0d0"/><text class="t" x="849" y="553">Integrin</text>
<rect x="745" y="596" width="46" height="16" fill="#c8c8e0"/><text class="t" x="768" y="608">B-Raf</text>
<rect x="745" y="622" width="46" height="16" fill="#c8c8e0"/><text class="t" x="768" y="634">Raf-1</text>
<rect x="880" y="611" width="46" height="16" fill="#d0d0d0"/><text class="t" x="903" y="623">MEK</text>
<rect x="952" y="611" width="46" height="16" fill="#dba8a8"/><text class="t" x="975" y="623">ERK</text>
<rect x="745" y="659" width="46" height="16" fill="#dba0a0"/><text class="t" x="768" y="671">MEK3,6</text>
<rect x="826" y="659" width="46" height="16" fill="url(#rbp)"/><text class="t" x="849" y="671">p38MAPK</text>
<rect x="745" y="699" width="46" height="16" fill="#ee2222"/><text class="t" x="768" y="711">PI3K</text>
<rect x="826" y="699" width="46" height="16" fill="#ee2222"/><text class="t" x="849" y="711">Akt</text>
<rect x="638" y="713" width="46" height="16" fill="#dba8a8"/><text class="t" x="661" y="725">Ras</text>
<rect x="745" y="728" width="46" height="16" fill="#c8c8e0"/><text class="t" x="768" y="740">PLCε</text>
</g>
<ellipse class="ge" cx="257" cy="252" rx="39" ry="18"/>
<ellipse class="ge" cx="109" cy="326" rx="40" ry="31"/>
<ellipse class="ge" cx="107" cy="463" rx="40" ry="31"/>
<ellipse class="ge" cx="479" cy="241" rx="40" ry="18"/>
<ellipse class="me" cx="533" cy="343" rx="39" ry="18"/>
<ellipse class="me" cx="406" cy="681" rx="38" ry="16"/>
<ellipse class="me" cx="768" cy="122" rx="39" ry="18"/>
<ellipse class="ge" cx="849" cy="122" rx="39" ry="18"/>
<ellipse class="me" cx="849" cy="416" rx="39" ry="17"/>
<ellipse class="me" cx="768" cy="548" rx="39" ry="17"/>
<ellipse class="ge" cx="849" cy="549" rx="41" ry="18"/>
<ellipse class="me" cx="662" cy="720" rx="39" ry="18"/>
<ellipse class="ge" cx="768" cy="737" rx="40" ry="18"/>
</g>
</svg>
</body></html>
